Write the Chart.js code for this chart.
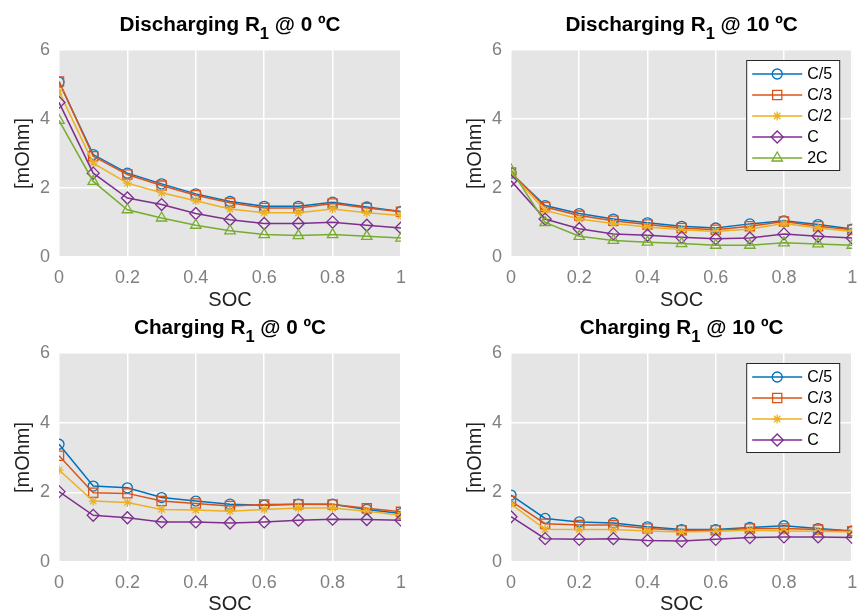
<!DOCTYPE html>
<html>
<head>
<meta charset="utf-8">
<title>R1 vs SOC</title>
<script src="https://cdn.jsdelivr.net/npm/chart.js@4.4.1/dist/chart.umd.min.js"></script>
<style>
  body { margin: 0; background: #fff; width: 860px; height: 616px; position: relative; overflow: hidden; }
  .panel { position: absolute; width: 430px; height: 320px; }
</style>
</head>
<body>
<div class="panel" style="left:0;top:0"><canvas id="c1" width="430" height="320"></canvas></div>
<div class="panel" style="left:430px;top:0"><canvas id="c2" width="430" height="320"></canvas></div>
<div class="panel" style="left:0;top:296px"><canvas id="c3" width="430" height="320"></canvas></div>
<div class="panel" style="left:430px;top:296px"><canvas id="c4" width="430" height="320"></canvas></div>
<script>
// state of charge (x axis)
const soc = [0, 0.1, 0.2, 0.3, 0.4, 0.5, 0.6, 0.7, 0.8, 0.9, 1];
const socTicks = [0, 0.2, 0.4, 0.6, 0.8, 1];
const rates = ["C/5", "C/3", "C/2", "C", "2C"];
const yTicks = [0, 2, 4, 6];

// Discharging R1 @ 0 C  [mOhm]
const dis0_C5 = [5.07, 2.97, 2.43, 2.12, 1.83, 1.61, 1.47, 1.47, 1.59, 1.45, 1.32];
const dis0_C3 = [5.09, 2.92, 2.39, 2.07, 1.79, 1.57, 1.42, 1.42, 1.55, 1.42, 1.31];
const dis0_C2 = [4.80, 2.72, 2.14, 1.86, 1.63, 1.39, 1.28, 1.28, 1.39, 1.28, 1.20];
const dis0_C = [4.48, 2.43, 1.71, 1.52, 1.26, 1.08, 0.97, 0.97, 1.01, 0.92, 0.84];
const dis0_2C = [3.96, 2.19, 1.37, 1.13, 0.92, 0.76, 0.65, 0.62, 0.65, 0.60, 0.55];

// Discharging R1 @ 10 C
const dis10_C5 = [2.43, 1.49, 1.26, 1.10, 0.99, 0.89, 0.84, 0.96, 1.05, 0.94, 0.81];
const dis10_C3 = [2.45, 1.45, 1.20, 1.05, 0.94, 0.84, 0.79, 0.89, 1.03, 0.89, 0.79];
const dis10_C2 = [2.42, 1.35, 1.10, 0.97, 0.87, 0.79, 0.74, 0.81, 0.97, 0.84, 0.74];
const dis10_C = [2.21, 1.10, 0.82, 0.67, 0.63, 0.57, 0.53, 0.55, 0.67, 0.60, 0.55];
const dis10_2C = [2.53, 1.00, 0.60, 0.48, 0.43, 0.39, 0.34, 0.34, 0.41, 0.38, 0.34];

// Charging R1 @ 0 C
const chg0_C5 = [3.38, 2.18, 2.13, 1.85, 1.75, 1.66, 1.63, 1.66, 1.66, 1.51, 1.39];
const chg0_C3 = [3.05, 1.99, 1.97, 1.75, 1.68, 1.61, 1.65, 1.66, 1.65, 1.54, 1.44];
const chg0_C2 = [2.64, 1.75, 1.71, 1.51, 1.49, 1.46, 1.51, 1.55, 1.55, 1.46, 1.34];
const chg0_C = [2.02, 1.34, 1.27, 1.15, 1.15, 1.12, 1.15, 1.20, 1.23, 1.22, 1.20];

// Charging R1 @ 10 C
const chg10_C5 = [1.92, 1.25, 1.15, 1.12, 1.01, 0.93, 0.93, 0.99, 1.04, 0.96, 0.89];
const chg10_C3 = [1.75, 1.10, 1.06, 1.06, 0.96, 0.91, 0.91, 0.96, 0.96, 0.93, 0.88];
const chg10_C2 = [1.66, 0.94, 0.93, 0.93, 0.89, 0.86, 0.88, 0.91, 0.89, 0.88, 0.86];
const chg10_C = [1.30, 0.67, 0.65, 0.67, 0.62, 0.60, 0.65, 0.70, 0.72, 0.72, 0.70];

const colors = ["#0072BD", "#D95319", "#EDB120", "#7E2F8E", "#77AC30"];
const markers = ["circle", "rect", "star", "rectRot", "triangle"];
const markerSize = [5, 6.5, 4.5, 6, 6];
const FONT = "'Liberation Sans', Arial, sans-serif";

// gray plot background
const bgPlugin = {
  id: "plotBg",
  beforeDraw(chart) {
    const a = chart.chartArea;
    const ctx = chart.ctx;
    ctx.save();
    ctx.fillStyle = "#e5e5e5";
    ctx.fillRect(a.left, a.top, a.right - a.left, a.bottom - a.top);
    ctx.restore();
  },
};

// title with subscript "1"
const titlePlugin = {
  id: "r1Title",
  afterDraw(chart, args, opts) {
    if (!opts.pre) return;
    const ctx = chart.ctx;
    const a = chart.chartArea;
    const big = "bold 20.7px " + FONT;
    const small = "bold 16.5px " + FONT;
    ctx.save();
    ctx.fillStyle = "#000";
    ctx.textBaseline = "alphabetic";
    ctx.textAlign = "left";
    ctx.font = big;
    const w1 = ctx.measureText(opts.pre).width;
    const w3 = ctx.measureText(opts.post).width;
    ctx.font = small;
    const w2 = ctx.measureText(opts.sub).width;
    let x = (a.left + a.right) / 2 - (w1 + w2 + w3) / 2;
    const y = a.top - 19;
    ctx.font = big;
    ctx.fillText(opts.pre, x, y);
    x += w1;
    ctx.font = small;
    ctx.fillText(opts.sub, x, y + 8);
    x += w2;
    ctx.font = big;
    ctx.fillText(opts.post, x, y);
    ctx.restore();
  },
};

// boxed legend in the upper right of the plot
const legendPlugin = {
  id: "boxLegend",
  afterDraw(chart, args, opts) {
    if (!opts.show) return;
    const ctx = chart.ctx;
    const a = chart.chartArea;
    const sets = chart.data.datasets;
    const w = 93;
    const h = 14 + (sets.length - 1) * 21 + 12;
    const bx = a.right - 13 - w;
    const by = a.top + 10;
    ctx.save();
    ctx.fillStyle = "#fff";
    ctx.fillRect(bx, by, w, h);
    ctx.strokeStyle = "#262626";
    ctx.lineWidth = 1;
    ctx.strokeRect(bx + 0.5, by + 0.5, w, h);
    ctx.font = "16px " + FONT;
    ctx.textBaseline = "middle";
    ctx.textAlign = "left";
    sets.forEach((ds, i) => {
      const y = by + 14 + i * 21;
      ctx.strokeStyle = ds.borderColor;
      ctx.lineWidth = 1.5;
      ctx.beginPath();
      ctx.moveTo(bx + 6, y);
      ctx.lineTo(bx + 56, y);
      ctx.stroke();
      ctx.fillStyle = "rgba(0,0,0,0)";
      ctx.lineWidth = 1.3;
      Chart.helpers.drawPoint(ctx, { pointStyle: ds.pointStyle, radius: ds.pointRadius, borderWidth: 1.3 }, bx + 31, y);
      ctx.fillStyle = "#000";
      ctx.fillText(ds.label, bx + 61, y + 1);
    });
    ctx.restore();
  },
};

function makeChart(id, series, title, left, top, legend) {
  const datasets = series.map((vals, i) => ({
    label: rates[i],
    data: soc.map((x, j) => ({ x: x, y: vals[j] })),
    borderColor: colors[i],
    backgroundColor: colors[i],
    pointStyle: markers[i],
    pointRadius: markerSize[i],
    pointBorderWidth: 1.3,
    pointBackgroundColor: "rgba(0,0,0,0)",
    borderWidth: 1.5,
    order: series.length - i,
  }));
  const right = left ? 7 : 29;
  const bottomTitlePad = top > 50 ? 0 : 8;
  return new Chart(document.getElementById(id), {
    type: "line",
    data: { datasets: datasets },
    options: {
      responsive: false,
      animation: false,
      layout: { padding: { left: left, right: right, top: top, bottom: 0 } },
      plugins: {
        legend: { display: false },
        tooltip: { enabled: false },
        r1Title: title,
        boxLegend: { show: legend },
      },
      scales: {
        x: {
          type: "linear",
          min: 0,
          max: 1,
          afterFit: (s) => {
            s.height = 320 - top - 207 - (top > 50 ? 2 : 0);
            s.paddingLeft = 0;
            s.paddingRight = 0;
          },
          afterBuildTicks: (s) => { s.ticks = socTicks.map((v) => ({ value: v })); },
          border: { display: false },
          grid: { color: "#ffffff", lineWidth: 1.5, drawTicks: false },
          ticks: {
            padding: 10,
            color: "#808080",
            font: { family: FONT, size: 18 },
            callback: (v) => String(Math.round(v * 10) / 10),
          },
          title: {
            display: true,
            text: "SOC",
            color: "#222",
            font: { family: FONT, size: 20 },
            padding: { top: 0, bottom: bottomTitlePad },
          },
        },
        y: {
          min: 0,
          max: 6,
          afterFit: (s) => { s.width = 59; },
          afterBuildTicks: (s) => { s.ticks = yTicks.map((v) => ({ value: v })); },
          border: { display: false },
          grid: { color: "#ffffff", lineWidth: 1.5, drawTicks: false },
          ticks: {
            padding: 9,
            color: "#808080",
            font: { family: FONT, size: 18 },
          },
          title: {
            display: true,
            text: "[mOhm]",
            color: "#222",
            font: { family: FONT, size: 20 },
            padding: { top: 11, bottom: 0 },
          },
        },
      },
    },
    plugins: [bgPlugin, titlePlugin, legendPlugin],
  });
}

makeChart("c1", [dis0_C5, dis0_C3, dis0_C2, dis0_C, dis0_2C],
  { pre: "Discharging R", sub: "1", post: " @ 0 ºC" }, 0, 50, false);
makeChart("c2", [dis10_C5, dis10_C3, dis10_C2, dis10_C, dis10_2C],
  { pre: "Discharging R", sub: "1", post: " @ 10 ºC" }, 22, 50, true);
makeChart("c3", [chg0_C5, chg0_C3, chg0_C2, chg0_C],
  { pre: "Charging R", sub: "1", post: " @ 0 ºC" }, 0, 57, false);
makeChart("c4", [chg10_C5, chg10_C3, chg10_C2, chg10_C],
  { pre: "Charging R", sub: "1", post: " @ 10 ºC" }, 22, 57, true);
</script>
</body>
</html>
